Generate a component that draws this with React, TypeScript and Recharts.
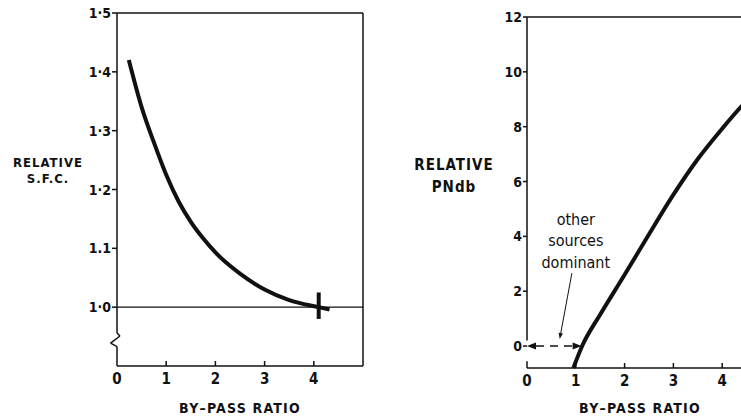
import React from 'react';
import {
  LineChart,
  Line,
  XAxis,
  YAxis,
  ReferenceLine,
  ReferenceDot,
  Label
} from 'recharts';

// left panel: relative s.f.c. against by-pass ratio
const sfcRatio = [0.24, 0.5, 0.75, 1.0, 1.25, 1.5, 1.75, 2.0, 2.5, 3.0, 3.5, 4.1, 4.32];
const sfcValue = [1.42, 1.34, 1.28, 1.225, 1.18, 1.145, 1.117, 1.093, 1.057, 1.03, 1.012, 1.0, 0.996];
const sfcTicks = [1.0, 1.1, 1.2, 1.3, 1.4, 1.5];
const sfcTickLabels = ['1·0', '1.1', '1·2', '1·3', '1·4', '1·5'];
// design point marked on the curve
const markRatio = [4.1];
const markSfc = [1.0];

// right panel: relative PNdb against by-pass ratio
const pndbRatio = [0.95, 1.13, 1.5, 2.0, 2.5, 3.0, 3.5, 4.0, 4.4, 4.8];
const pndbValue = [-0.8, 0, 1.15, 2.6, 4.08, 5.52, 6.82, 7.93, 8.75, 9.45];
const pndbTicks = [0, 2, 4, 6, 8, 10, 12];

const ratioTicks = [0, 1, 2, 3, 4];
const noteLines = ['other', 'sources', 'dominant'];

const INK = '#111';
const FONT = "'DejaVu Sans Condensed', 'DejaVu Sans', sans-serif";
const TICK_GAP = 7;

const sfcData = sfcRatio.map((x, i) => ({ x, y: sfcValue[i] }));
const pndbData = pndbRatio.map((x, i) => ({ x, y: pndbValue[i] }));

// x ticks point inwards, so the tick line is drawn here
const RatioTick = (props: any) => {
  const { x, y, payload } = props;
  const axisY = y - TICK_GAP;
  return (
    <g>
      {payload.value !== 0 && (
        <line x1={x} x2={x} y1={axisY} y2={axisY - 5} stroke={INK} strokeWidth={1.5} />
      )}
      <text x={x} y={y} dy="0.71em" textAnchor="middle" fill={INK}
        fontFamily={FONT} fontWeight="bold" fontSize={15}>
        {payload.value}
      </text>
    </g>
  );
};

const ValueTick = (props: any) => {
  const { x, y, payload, labels, values } = props;
  const i = values ? values.indexOf(payload.value) : -1;
  return (
    <text x={x} y={y} dy="0.36em" textAnchor="end" fill={INK}
      fontFamily={FONT} fontWeight="bold" fontSize={14}>
      {i >= 0 ? labels[i] : payload.value}
    </text>
  );
};

const head = (x1: number, y1: number, x2: number, y2: number, len: number, half: number) => {
  const a = Math.atan2(y2 - y1, x2 - x1);
  const c = Math.cos(a);
  const s = Math.sin(a);
  const bx = x2 - len * c;
  const by = y2 - len * s;
  return `${x2},${y2} ${bx - half * s},${by + half * c} ${bx + half * s},${by - half * c}`;
};

const arrowShape = (both: boolean, width: number, len: number, half: number, dash?: string) =>
  (p: any) => {
    const { x1, y1, x2, y2 } = p;
    const a = Math.atan2(y2 - y1, x2 - x1);
    const sx = both ? x1 + len * Math.cos(a) : x1;
    const sy = both ? y1 + len * Math.sin(a) : y1;
    return (
      <g>
        <line x1={sx} y1={sy} x2={x2 - (len - 1) * Math.cos(a)} y2={y2 - (len - 1) * Math.sin(a)}
          stroke={INK} strokeWidth={width} strokeDasharray={dash} />
        <polygon points={head(x1, y1, x2, y2, len, half)} fill={INK} />
        {both && <polygon points={head(x2, y2, x1, y1, len, half)} fill={INK} />}
      </g>
    );
  };

const yTitle = (lines: string[], dx: number, top: number, gap: number, size: number, ls: number) =>
  (props: any) => {
    const vb = props.viewBox;
    return (
      <text x={vb.x + dx} y={vb.y + top} textAnchor="middle" fill={INK} fontFamily={FONT}
        fontWeight="bold" fontSize={size} style={{ letterSpacing: ls }}>
        {lines.map((t, i) => (
          <tspan key={t} x={vb.x + dx} dy={i === 0 ? 0 : gap}>{t}</tspan>
        ))}
      </text>
    );
  };

const xTitle = (text: string, dx: number, down: number) => (props: any) => {
  const vb = props.viewBox;
  return (
    <text x={vb.x + vb.width / 2 + dx} y={vb.y + vb.height + down} textAnchor="middle"
      fill={INK} fontFamily={FONT} fontWeight="bold" fontSize={14} style={{ letterSpacing: 1.2 }}>
      {text}
    </text>
  );
};

const seg = (pts: number[][]) => pts.slice(1).map((p, i) => [pts[i], p]);

// left axis with the broken-scale zigzag below 1.0
const sfcAxisPath = [[0, 1.5], [0, 0.956], [0.06, 0.951], [-0.13, 0.939], [0, 0.933], [0, 0.9]];
const pndbAxisParts = [[[0, 12], [0, 0.2]], [[0, -0.55], [0, -0.8]]];

const App: React.FC = () => {
  return (
    <div style={{ position: 'fixed', left: 0, top: 0, width: 741, height: 420, overflow: 'hidden', background: '#fff' }}>
      <div style={{ position: 'absolute', left: 0, top: 0 }}>
        <LineChart width={380} height={420} data={sfcData}
          margin={{ top: 13, right: 17, bottom: 24, left: 60 }}>
          <XAxis type="number" dataKey="x" domain={[0, 5]} ticks={ratioTicks} interval={0}
            height={30} tickSize={0} tickMargin={TICK_GAP} tickLine={false}
            axisLine={{ stroke: INK, strokeWidth: 1.5 }} tick={<RatioTick />}>
            <Label content={xTitle('BY–PASS RATIO', 0, 17)} />
          </XAxis>
          <YAxis type="number" domain={[0.9, 1.5]} ticks={sfcTicks} interval={0} width={57}
            axisLine={false} tickLine={{ stroke: INK, strokeWidth: 1.5 }} tickSize={5} tickMargin={1}
            tick={<ValueTick values={sfcTicks} labels={sfcTickLabels} />}>
            <Label content={yTitle(['RELATIVE', 'S.F.C.'], -12, 154, 16, 13, 1)} />
          </YAxis>
          <ReferenceLine y={1.5} stroke={INK} strokeWidth={1.5} />
          <ReferenceLine x={5} stroke={INK} strokeWidth={1.5} />
          <ReferenceLine y={1} stroke={INK} strokeWidth={1.2} />
          {seg(sfcAxisPath).map(([a, b], i) => (
            <ReferenceLine key={'ax' + i} ifOverflow="visible" stroke={INK} strokeWidth={1.5}
              segment={[{ x: a[0], y: a[1] }, { x: b[0], y: b[1] }]} />
          ))}
          <Line type="monotone" dataKey="y" stroke={INK} strokeWidth={4} dot={false}
            activeDot={false} isAnimationActive={false} />
          {markRatio.map((r, i) => (
            <ReferenceLine key={'mk' + i} stroke={INK} strokeWidth={4}
              segment={[{ x: r, y: markSfc[i] - 0.02 }, { x: r, y: markSfc[i] + 0.025 }]} />
          ))}
        </LineChart>
      </div>
      <div style={{ position: 'absolute', left: 380, top: 0 }}>
        <LineChart width={410} height={420} data={pndbData}
          margin={{ top: 17, right: 19, bottom: 22, left: 90 }}>
          <XAxis type="number" dataKey="x" domain={[0, 5]} ticks={ratioTicks} interval={0}
            height={30} tickSize={0} tickMargin={TICK_GAP} tickLine={false}
            axisLine={{ stroke: INK, strokeWidth: 1.5 }} tick={<RatioTick />}>
            <Label content={xTitle('BY–PASS RATIO', -9, 15)} />
          </XAxis>
          <YAxis type="number" domain={[-0.8, 12]} ticks={pndbTicks} interval={0} width={57}
            axisLine={false} tickLine={{ stroke: INK, strokeWidth: 1.5 }} tickSize={4} tickMargin={1}
            tick={<ValueTick />}>
            <Label content={yTitle(['RELATIVE', 'PNdb'], -16, 153, 22, 15, 1)} />
          </YAxis>
          <ReferenceLine y={12} stroke={INK} strokeWidth={1.5} />
          <ReferenceLine x={5} stroke={INK} strokeWidth={1.5} />
          {pndbAxisParts.map(([a, b], i) => (
            <ReferenceLine key={'ax' + i} stroke={INK} strokeWidth={1.5}
              segment={[{ x: a[0], y: a[1] }, { x: b[0], y: b[1] }]} />
          ))}
          <Line type="monotone" dataKey="y" stroke={INK} strokeWidth={4} dot={false}
            activeDot={false} isAnimationActive={false} />
          <ReferenceLine ifOverflow="visible" segment={[{ x: 0, y: 0 }, { x: 1.12, y: 0 }]}
            shape={arrowShape(true, 1.5, 9, 3.5, '8 6')} />
          <ReferenceLine ifOverflow="visible" segment={[{ x: 0.92, y: 2.66 }, { x: 0.67, y: 0.26 }]}
            shape={arrowShape(false, 1, 6, 2.2)} />
          <ReferenceDot x={1} y={4.42} r={0} shape={(p: any) => (
            <text x={p.cx} y={p.cy} textAnchor="middle" fill={INK} fontFamily={FONT} fontSize={16}>
              {noteLines.map((t, i) => (
                <tspan key={t} x={p.cx} dy={i === 0 ? 0 : 21.5}>{t}</tspan>
              ))}
            </text>
          )} />
        </LineChart>
      </div>
    </div>
  );
};

export default App;
